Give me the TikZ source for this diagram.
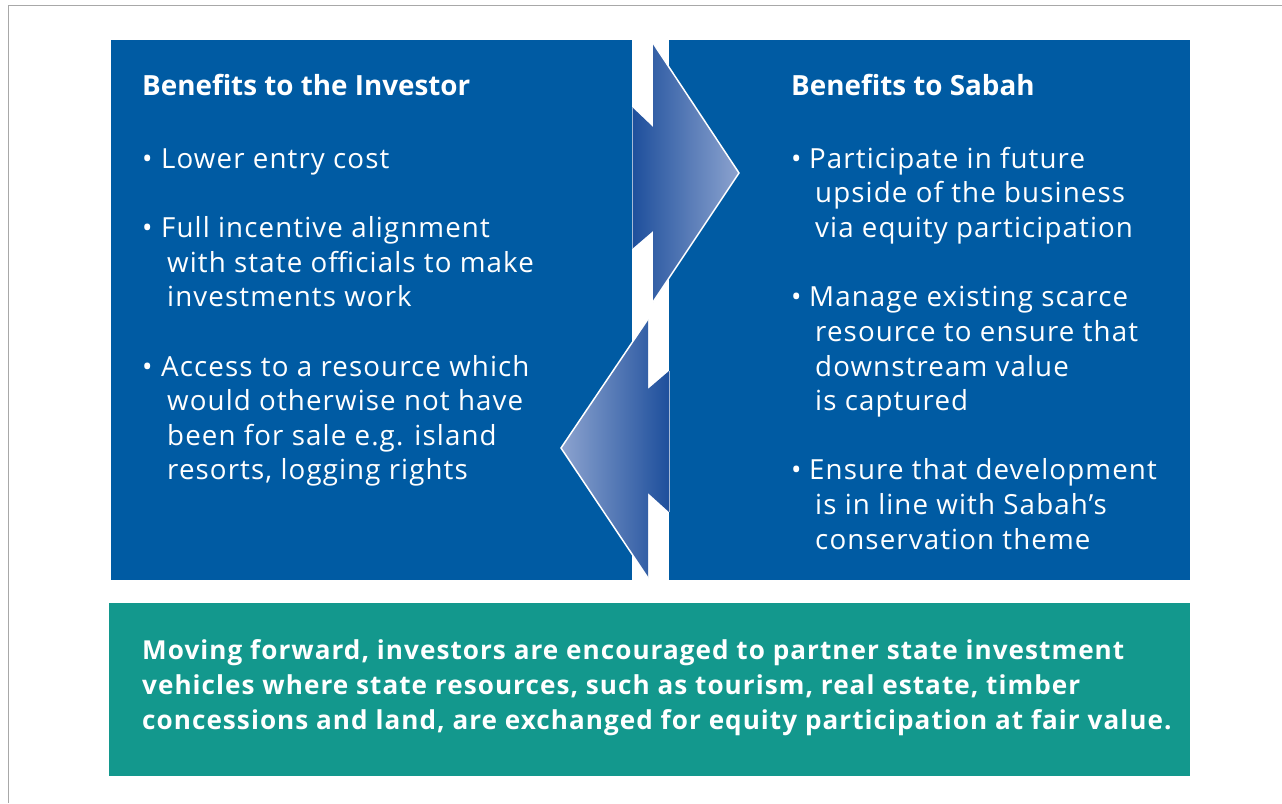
\documentclass[tikz,border=0pt]{standalone}
\usepackage{fontspec}
\newfontfamily\bodyfont{Open Sans}[LetterSpace=4]
\newfontfamily\headfont{Open Sans}
\definecolor{boxblue}{HTML}{005BA3}
\definecolor{teal}{HTML}{13988D}
\definecolor{framegray}{HTML}{A8A8A8}
\definecolor{arrdark}{HTML}{1E4F9C}
\definecolor{arrmid}{HTML}{1366AA}
\definecolor{arrlight}{HTML}{8CA3CF}
\begin{document}
\begin{tikzpicture}[x=1pt,y=-1pt,
  txt/.style={anchor=base west,inner sep=0pt,text=white,font=\bodyfont\fontsize{27.7}{34.5}\selectfont},
  head/.style={txt,font=\headfont\bfseries\fontsize{27.8}{34}\selectfont},
  note/.style={txt,font=\bodyfont\bfseries\fontsize{26.1}{35}\selectfont},
  panel/.style={draw=none,inner sep=0pt,anchor=north west},
  bul/.style={txt},
]
\useasboundingbox (0,0) rectangle (1282,803);
\fill[white] (0,0) rectangle (1282,803);
\draw[framegray,line width=1.5pt] (8.7,803) -- (8.7,5.5) -- (1282,5.5);

\node[panel,fill=boxblue,minimum width=521pt,minimum height=540pt] (left) at (111,40) {};
\node[panel,fill=boxblue,minimum width=521pt,minimum height=540pt] (right) at (669,40) {};
\node[panel,fill=teal,minimum width=1081pt,minimum height=173pt] (note) at (109,603) {};

% upper arrow (to the right)
\shade[left color=arrdark,middle color=arrmid,right color=arrlight]
  (653,43) -- (739,173) -- (653,302) -- (653,231) -- (632,249) -- (632,107) -- (653,127) -- cycle;
\draw[white,line width=1.5pt,line join=miter] (653,43) -- (739,173) -- (653,302);
\draw[white!60!arrdark,line width=0.5pt] (632,107) -- (632,249);
% lower arrow (to the left)
\shade[left color=arrlight,middle color=arrmid,right color=arrdark]
  (648,319) -- (561,448) -- (648,578) -- (648,493) -- (669,512) -- (669,371) -- (648,389) -- cycle;
\draw[white,line width=1.5pt,line join=miter] (648,319) -- (561,448) -- (648,578);
\draw[white!60!arrdark,line width=0.5pt] (669,371) -- (669,512);

% left column
\node[head] (h1) at (142,95) {Benefits to the Investor};
\node[bul] (a1) at (142,168) {\makebox[19pt][l]{•}Lower entry cost};
\node[bul] (a2) at (142,237) {\makebox[19pt][l]{•}Full incentive alignment};
\node[txt] (a2b) at (167,272) {with state officials to make};
\node[txt] (a2c) at (167,306) {investments work};
\node[bul] (a3) at (142,376) {\makebox[19pt][l]{•}Access to a resource which};
\node[txt] (a3b) at (167,410) {would otherwise not have};
\node[txt] (a3c) at (167,445) {been for sale e.g. island};
\node[txt] (a3d) at (167,479) {resorts, logging rights};

% right column
\node[head] (h2) at (791,95) {Benefits to Sabah};
\node[bul] (b1) at (791,168) {\makebox[18pt][l]{•}Participate in future};
\node[txt] (b1b) at (815,202) {upside of the business};
\node[txt] (b1c) at (815,237) {via equity participation};
\node[bul] (b2) at (791,306) {\makebox[18pt][l]{•}Manage existing scarce};
\node[txt] (b2b) at (815,341) {resource to ensure that};
\node[txt] (b2c) at (815,376) {downstream value};
\node[txt] (b2d) at (815,410) {is captured};
\node[bul] (b3) at (791,479) {\makebox[18pt][l]{•}Ensure that development};
\node[txt] (b3b) at (815,514) {is in line with Sabah’s};
\node[txt] (b3c) at (815,549) {conservation theme};

% bottom note
\node[note] (n1) at (142,659) {Moving forward, investors are encouraged to partner state investment};
\node[note] (n2) at (142,694) {vehicles where state resources, such as tourism, real estate, timber};
\node[note] (n3) at (142,729) {concessions and land, are exchanged for equity participation at fair value.};
\end{tikzpicture}
\end{document}
